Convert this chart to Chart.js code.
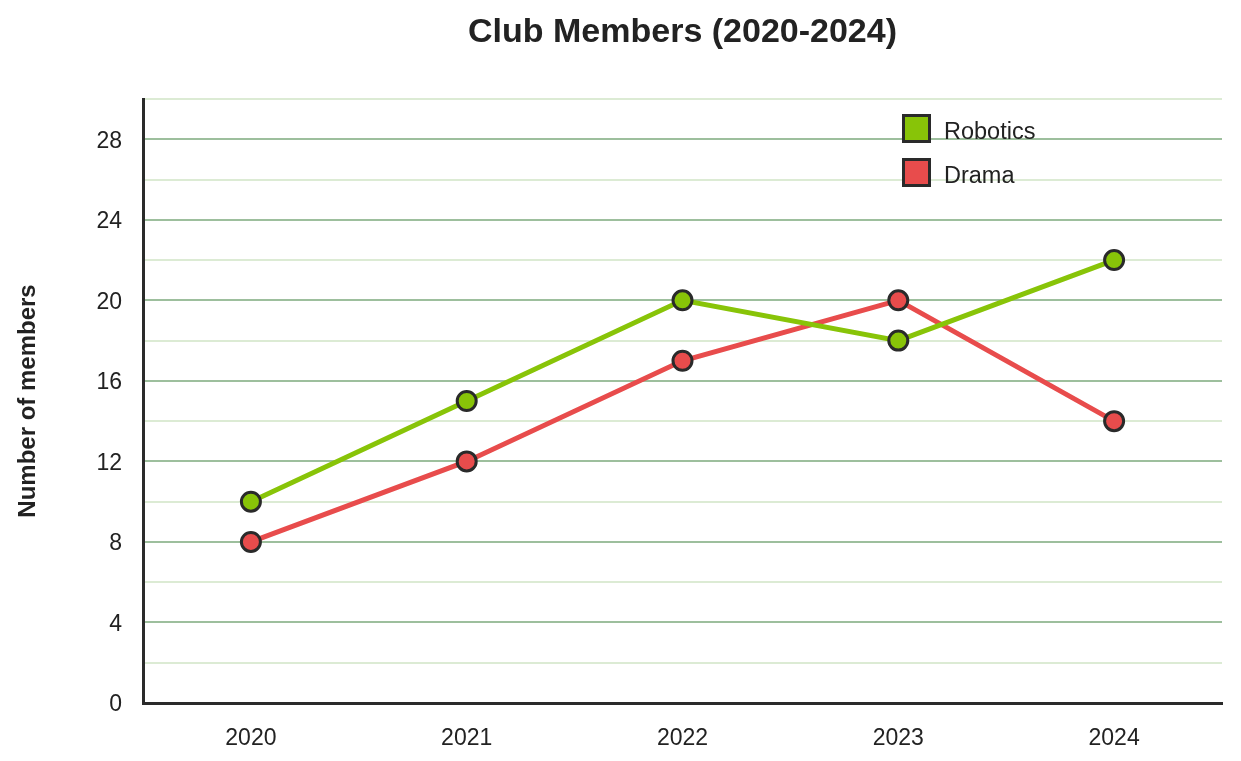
<!DOCTYPE html>
<html lang="en">
<head>
    <meta charset="UTF-8">
    <script src="https://cdn.jsdelivr.net/npm/chart.js"></script>
    <title>Club Members</title>
    <style>
        body { margin: 0; background: #ffffff; }
        canvas { display: block; }
    </style>
</head>
<body>
<canvas id="grafico" width="1241" height="761"></canvas>

<script>
    // Datos del gráfico
    const years = ['2020', '2021', '2022', '2023', '2024'];
    const robotics = [10, 15, 20, 18, 22];
    const drama = [8, 12, 17, 20, 14];
    const seriesNames = ['Robotics', 'Drama'];
    const seriesColors = ['#88c408', '#e84c4c'];
    const chartTitle = 'Club Members (2020-2024)';

    const ink = '#2a2a2a';
    const font = "'Liberation Sans', Arial, sans-serif";

    // Título centrado sobre el área del gráfico (no sobre todo el canvas)
    const titleOverArea = {
        id: 'titleOverArea',
        afterDraw(chart) {
            const ctx = chart.ctx;
            const area = chart.chartArea;
            ctx.save();
            ctx.fillStyle = '#222';
            ctx.font = 'bold 34px ' + font;
            ctx.textAlign = 'center';
            ctx.textBaseline = 'alphabetic';
            ctx.fillText(chartTitle, (area.left + area.right) / 2, 41.5);
            ctx.restore();
        }
    };

    // Leyenda dibujada dentro del área del gráfico (arriba a la derecha)
    const legendInside = {
        id: 'legendInside',
        afterDatasetsDraw(chart) {
            const ctx = chart.ctx;
            ctx.save();
            seriesNames.forEach((name, i) => {
                const x = 903.5, y = 115.5 + i * 44;
                ctx.fillStyle = seriesColors[i];
                ctx.fillRect(x, y, 26, 26);
                ctx.lineWidth = 3;
                ctx.strokeStyle = ink;
                ctx.strokeRect(x, y, 26, 26);
                ctx.fillStyle = '#222';
                ctx.font = '23.5px ' + font;
                ctx.textBaseline = 'alphabetic';
                ctx.fillText(name, 944, y + 23);
            });
            ctx.restore();
        }
    };

    function dataset(label, data, color) {
        return {
            label: label,
            data: data,
            borderColor: color,
            backgroundColor: color,
            borderWidth: 5,
            pointRadius: 9.5,
            pointHoverRadius: 9.5,
            pointBackgroundColor: color,
            pointBorderColor: ink,
            pointBorderWidth: 3,
            tension: 0
        };
    }

    new Chart(document.getElementById('grafico'), {
        type: 'line',
        data: {
            labels: years,
            datasets: [
                dataset(seriesNames[0], robotics, seriesColors[0]),
                dataset(seriesNames[1], drama, seriesColors[1])
            ]
        },
        plugins: [legendInside, titleOverArea],
        options: {
            responsive: false,
            animation: false,
            layout: { padding: { left: 4, right: 19, top: 99, bottom: 0 } },
            plugins: {
                legend: { display: false },
                tooltip: { enabled: false },
                title: { display: false }
            },
            scales: {
                x: {
                    offset: true,
                    grid: { display: false, drawTicks: false },
                    border: { color: ink, width: 3 },
                    ticks: { color: '#222', font: { family: font, size: 23 }, padding: 22 },
                    afterFit(scale) { scale.height = 58; }
                },
                y: {
                    min: 0,
                    max: 30,
                    border: { color: ink, width: 3 },
                    grid: {
                        drawTicks: false,
                        lineWidth: 2,
                        color: c => (c.tick && c.tick.value % 4 === 0) ? '#9dbf9d' : '#dcebd4'
                    },
                    ticks: {
                        stepSize: 2,
                        color: '#222',
                        padding: 21,
                        labelOffset: 2,
                        font: { family: font, size: 23 },
                        callback: v => (v % 4 === 0 && v <= 28) ? v : ''
                    },
                    title: {
                        display: true,
                        text: 'Number of members',
                        color: '#222',
                        font: { family: font, size: 24, weight: 'bold' },
                        padding: { top: 10, bottom: 4 }
                    },
                    afterFit(scale) { scale.width = 139; }
                }
            }
        }
    });
</script>
</body>
</html>
